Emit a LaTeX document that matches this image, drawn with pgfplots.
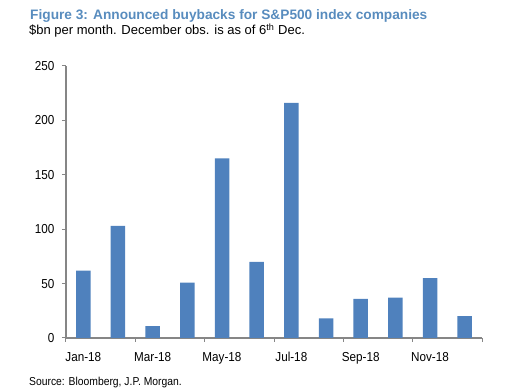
\documentclass[border=0pt]{standalone}
\usepackage{pgfplots}
\pgfplotsset{compat=1.18}
\usepackage{fontspec}
\setmainfont{Liberation Sans}
\newfontfamily\narrowfont[FakeStretch=0.9]{Liberation Sans}
\definecolor{barblue}{RGB}{79,129,189}
\definecolor{titleblue}{RGB}{88,140,190}
\definecolor{axgray}{RGB}{134,134,134}
\begin{document}
\begin{tikzpicture}[x=1pt,y=1pt]
\path[use as bounding box] (0,0) rectangle (517,390);
\node[anchor=base west, inner sep=0, text=titleblue, font=\bfseries\fontsize{13.7}{15}\selectfont] at (30,370.5) {Figure 3: Announced buybacks for S\&P500 index companies};
\node[anchor=base west, inner sep=0, font=\fontsize{13}{15}\selectfont] at (29,355) {\$bn per month. December obs. is as of 6\textsuperscript{th} Dec.};
\node[anchor=base west, inner sep=0, font=\narrowfont\fontsize{11.5}{13}\selectfont] at (29,4) {Source: Bloomberg, J.P. Morgan.};
\begin{axis}[
  at={(66pt,52pt)}, anchor=south west,
  scale only axis, width=416pt, height=272pt,
  xmin=-0.5, xmax=11.5, ymin=0, ymax=250,
  axis lines*=left,
  axis line style={axgray, line width=1.5pt},
  tick style={axgray, line width=1pt},
  tick align=outside,
  major tick length=4pt,
  xtick={-0.5,1.5,...,11.5}, xticklabels={},
  extra x ticks={0,2,4,6,8,10},
  extra x tick labels={Jan-18,Mar-18,May-18,Jul-18,Sep-18,Nov-18},
  extra x tick style={major tick length=0pt},
  ytick={0,50,100,150,200,250},
  ticklabel style={font=\narrowfont\fontsize{13}{15}\selectfont},
  /pgf/number format/assume math mode=true,
  xticklabel style={anchor=base, yshift=-24pt},
  yticklabel style={xshift=-4pt},
  ybar, bar width=14.5pt, bar shift=0pt,
  clip=false,
]
\addplot[fill=barblue, draw=none] coordinates {
(0,62) (1,103) (2,11) (3,51) (4,165) (5,70) (6,216) (7,18) (8,36) (9,37) (10,55) (11,20)
};
\end{axis}
\end{tikzpicture}
\end{document}
